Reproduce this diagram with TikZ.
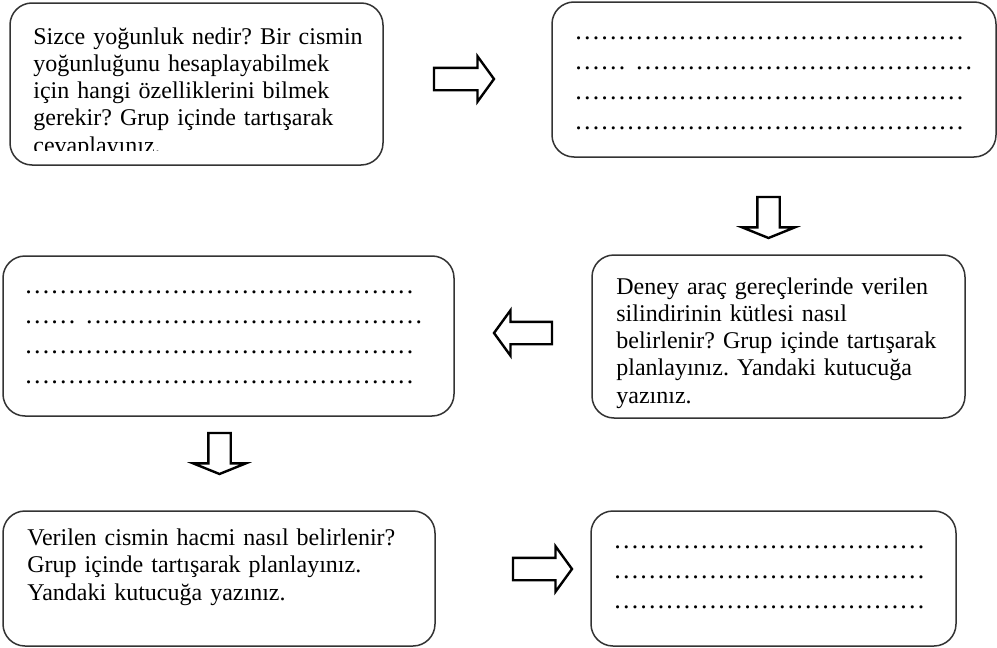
\documentclass[tikz,border=0pt]{standalone}
\usepackage{fontspec}
\setmainfont{Liberation Serif}
\usetikzlibrary{shapes.arrows}
\frenchspacing

% a row of ellipsis characters
\newcommand{\dotrow}[1]{\foreach \k in {1,...,#1}{…}}

\begin{document}
\begin{tikzpicture}[
    x=0.5pt, y=-0.5pt,
    card/.style={rectangle, draw=black!80, line width=0.75pt, rounded corners=11pt, inner sep=0pt, outer sep=0pt},
    question/.style={anchor=base west, inner sep=0pt, text width=200pt, align=left, font=\fontsize{12}{13.65}\selectfont},
    blank/.style={anchor=base west, inner sep=0pt, text width=230pt, align=left, font=\fontsize{13}{15}\selectfont},
    hollow/.style={single arrow, draw, line width=1.2pt, fill=white, inner xsep=0pt, minimum width=0pt, outer sep=0pt, anchor=tail},
    harrow/.style={hollow, inner ysep=5pt, single arrow head extend=5.75pt, single arrow tip angle=108, minimum height=30pt},
    varrow/.style={hollow, rotate=-90, inner ysep=5pt, single arrow head extend=7.5pt, single arrow tip angle=136, minimum height=20.5pt}
]
\path[fill=white, use as bounding box] (0,0) rectangle (997,648);

% boxes
\node[card, minimum width=186.5pt, minimum height=81pt] (q1) at (196.5,84) {};
\node[card, minimum width=222pt, minimum height=77.5pt] (a1) at (774,79.5) {};
\node[card, minimum width=225.5pt, minimum height=80pt] (a2) at (228.5,336) {};
\node[card, minimum width=186.5pt, minimum height=81.5pt] (q2) at (778.5,336.5) {};
\node[card, minimum width=216pt, minimum height=67.5pt] (q3) at (219,578.5) {};
\node[card, minimum width=182.5pt, minimum height=67.5pt] (a3) at (773.5,578.5) {};

% questions
\begin{scope}
\clip (10,3) rectangle (383,150.5);
\node[question] (q1t) at (33,44) {Sizce yoğunluk nedir? Bir cismin\\yoğunluğunu hesaplayabilmek\\için hangi özelliklerini bilmek\\gerekir? Grup içinde tartışarak\\cevaplayınız.};
\end{scope}
\node[question] (q2t) at (616,294) {Deney araç gereçlerinde verilen\\silindirinin kütlesi nasıl\\belirlenir? Grup içinde tartışarak\\planlayınız. Yandaki kutucuğa\\yazınız.};
\node[question] (q3t) at (27,545.5) {Verilen cismin hacmi nasıl belirlenir?\\Grup içinde tartışarak planlayınız.\\Yandaki kutucuğa yazınız.};

% answer lines
\node[blank] (a1t) at (574,39.5) {\dotrow{15}\\\dotrow{2} \dotrow{13}\\\dotrow{15}\\\dotrow{15}};
\node[blank] (a2t) at (24,293.5) {\dotrow{15}\\\dotrow{2} \dotrow{13}\\\dotrow{15}\\\dotrow{15}};
\node[blank] (a3t) at (613,548.5) {\dotrow{12}\\\dotrow{12}\\\dotrow{12}};

% arrows
\node[harrow] (r1) at (434,79) {};
\node[varrow] (d1) at (768.5,197) {};
\node[harrow, rotate=180, minimum height=29pt] (l1) at (552,333) {};
\node[varrow] (d2) at (219.5,433) {};
\node[harrow, minimum height=29.5pt] (r2) at (513,569) {};

\end{tikzpicture}
\end{document}
